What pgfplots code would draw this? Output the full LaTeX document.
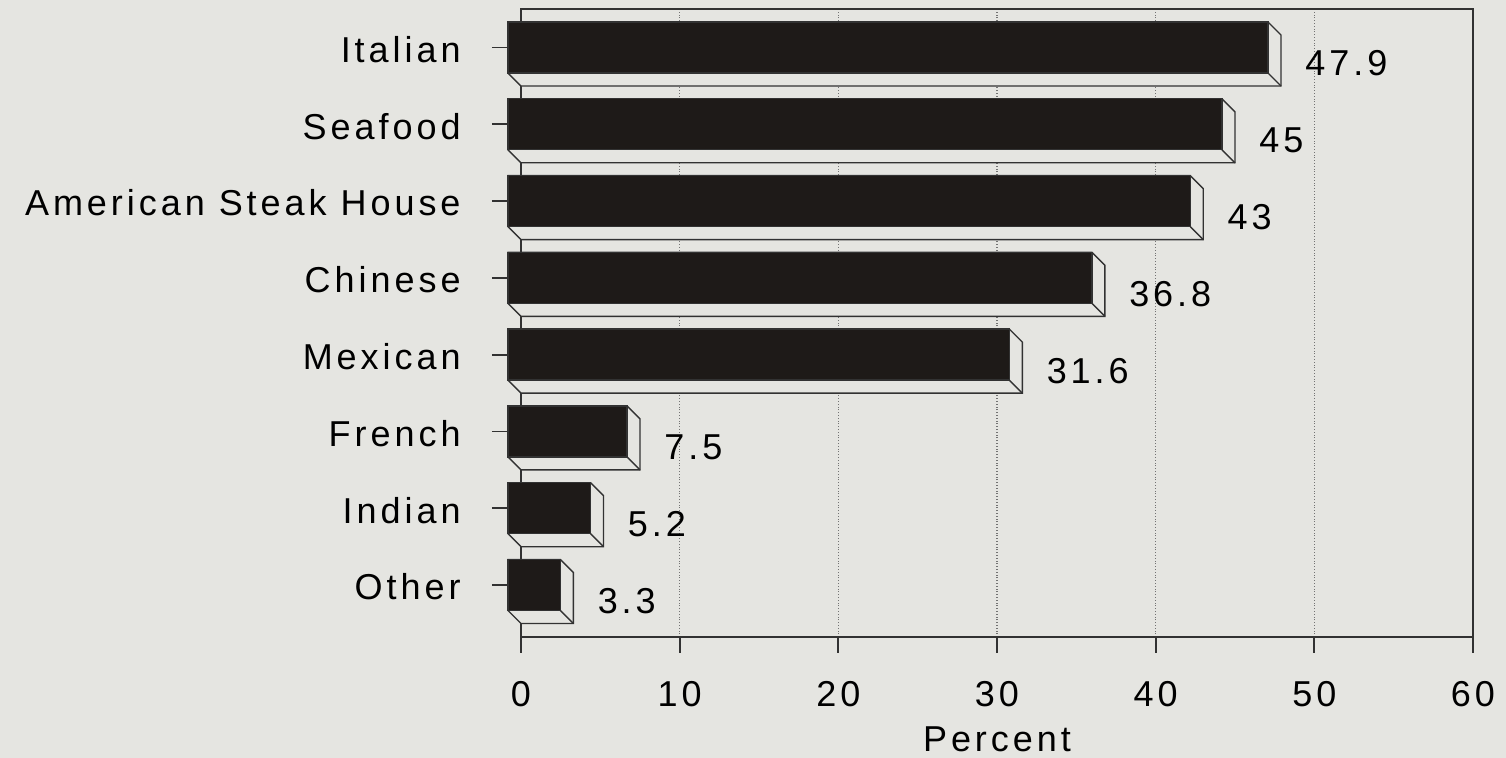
\documentclass[border=0pt]{standalone}
\usepackage{pgfplots}
\pgfplotsset{compat=1.18}
\usepackage{pgfplotstable}
\usepackage{fontspec}
\setmainfont[LetterSpace=11]{Liberation Sans}
\usetikzlibrary{calc}
\definecolor{paper}{RGB}{229,229,225}
\definecolor{barblack}{RGB}{30,26,24}
\definecolor{linecol}{RGB}{50,50,50}

\pgfplotstableread{
pos v
8 47.9
7 45
6 43
5 36.8
4 31.6
3 7.5
2 5.2
1 3.3
}\bars

\begin{document}
\fontsize{18}{21}\selectfont
\begin{tikzpicture}[font=\fontsize{18}{21}\selectfont]
\fill[paper] (-260.5pt,-60.5pt) rectangle (492.5pt,318.5pt);
\begin{axis}[
  name=ax,
  at={(0,0)}, anchor=south west,
  scale only axis,
  width=476pt, height=314pt,
  xmin=0, xmax=60, ymin=0.492, ymax=8.671,
  clip=false,
  xtick={0,10,...,60},
  ytick={1,...,8},
  yticklabels={Other,Indian,French,Mexican,Chinese,American Steak House,Seafood,Italian},
  tick align=outside,
  xtick pos=left, ytick pos=left,
  major tick length=8pt,
  every y tick/.append style={xshift=-6.5pt, yshift=6.5pt},
  yticklabel style={xshift=-16pt, yshift=5.5pt},
  xticklabel style={yshift=-8pt},
  /pgf/number format/assume math mode=true,
  /pgf/number format/precision=1,
  xmajorgrids,
  grid style={densely dotted, line width=0.6pt, black!55},
  axis line style={linecol, line width=0.9pt},
  tick style={linecol, line width=0.9pt},
  xlabel={Percent},
  xlabel style={yshift=-3.5pt, inner sep=0pt},
]
\addplot[
  scatter, only marks, mark=*, mark size=0pt,
  visualization depends on={\thisrow{v} \as \bv},
  scatter/@pre marker code/.code={%
    \path (axis direction cs:-\bv,0) coordinate (L);
    \filldraw[fill=paper, draw=linecol, line width=0.7pt, line join=miter]
      ($(L)+(-6.5pt,19.25pt)$) -- (-6.5pt,19.25pt) -- (0pt,12.75pt)
      -- (0pt,-12.75pt) -- ($(L)+(0pt,-12.75pt)$) -- ($(L)+(-6.5pt,-6.25pt)$) -- cycle;
    \draw[linecol, line width=0.7pt] (-6.5pt,-6.25pt) -- (0pt,-12.75pt);
    \filldraw[fill=barblack, draw=linecol, line width=0.7pt]
      ($(L)+(-6.5pt,-6.25pt)$) rectangle (-6.5pt,19.25pt);
    \node[anchor=west, inner sep=0pt, text=black] at (12pt,-1.5pt) {\pgfmathprintnumber{\bv}};
  },
  scatter/@post marker code/.code={},
] table[x=v, y=pos] {\bars};
\end{axis}
\pgfresetboundingbox
\path[use as bounding box] (-260.5pt,-60.5pt) rectangle (492.5pt,318.5pt);
\end{tikzpicture}
\end{document}
